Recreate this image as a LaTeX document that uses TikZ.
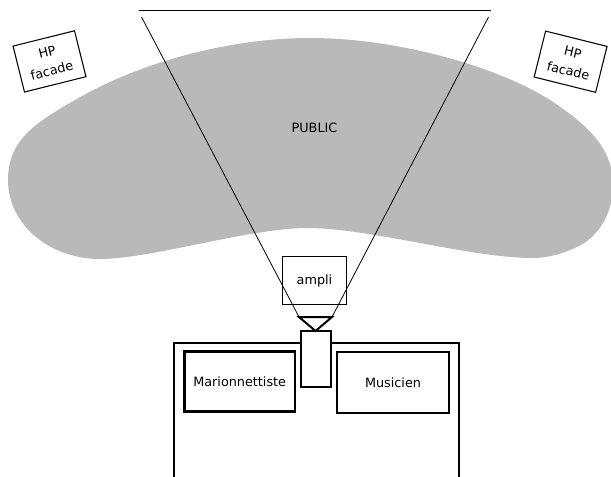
\documentclass[tikz,border=0pt]{standalone}
\usepackage{fontspec}
\setmainfont{DejaVu Sans}
\usetikzlibrary{positioning}

\definecolor{publicgray}{RGB}{185,185,185}

\tikzset{
	box/.style={draw, rectangle, inner sep=0pt},
	hpbox/.style={box, line width=0.8pt, minimum width=47.5pt, minimum height=35.5pt, align=center, font=\fontsize{9.6}{14.4}\selectfont},
	zonebox/.style={box, line width=1.5pt},
	beam/.style={line width=0.6pt}
}

\begin{document}
\begin{tikzpicture}[x=0.75pt, y=-0.75pt, font=\fontsize{9.6}{11.5}\selectfont]
	\useasboundingbox (0,0) rectangle (611,476);
	\clip (0,0) rectangle (611,476);
	% public area
	\fill[publicgray] (8,180)
		.. controls (8,140) and (35,123) .. (75,100)
		.. controls (140,62) and (230,38) .. (310,38)
		.. controls (400,38) and (500,68) .. (550,100)
		.. controls (590,126) and (613,150) .. (613,185)
		.. controls (613,215) and (597,238) .. (577,247)
		.. controls (560,255) and (545,258) .. (533,258)
		.. controls (470,258) and (370,228) .. (307,228)
		.. controls (250,228) and (150,259) .. (100,259)
		.. controls (50,259) and (8,225) .. (8,180) -- cycle;
	\node (public) at (314.5,128) {PUBLIC};
	% screen and beam
	\coordinate (screenL) at (139,10.5);
	\coordinate (screenR) at (491,10.5);
	\coordinate (beamL) at (141.5,17);
	\coordinate (beamR) at (488.5,17);
	\coordinate (spkL) at (299,317);
	\coordinate (spkR) at (332,317);
	\coordinate (spkB) at (315.5,331);
	\draw[line width=1pt] (screenL) -- (screenR);
	\draw[beam] (beamL) -- (spkL);
	\draw[beam] (beamR) -- (spkR);
	% loudspeakers
	\node[hpbox, rotate=14] (hpleft) at (49.5,61.4) {HP\\facade};
	\node[hpbox, rotate=-14] (hpright) at (570.6,61.7) {HP\\facade};
	\node[box, line width=0.7pt, minimum width=47.5pt, minimum height=35.5pt] (ampli) at (314.5,280.5) {ampli};
	% stage
	\draw[line width=1.5pt] (174.3,520) -- (174.3,342.7) -- (459.3,342.7) -- (459.3,520);
	\node[box, line width=1.9pt, minimum width=83pt, minimum height=45pt] (mario) at (239.7,381.7) {Marionnettiste};
	\node[zonebox, minimum width=84.5pt, minimum height=46.2pt] (musicien) at (393,382.5) {Musicien};
	\node[zonebox, fill=white, minimum width=22.5pt, minimum height=42pt] (camera) at (316,359) {};
	\draw[line width=1.5pt, line join=miter] (spkL) -- (spkR) -- (spkB) -- cycle;
\end{tikzpicture}
\end{document}
